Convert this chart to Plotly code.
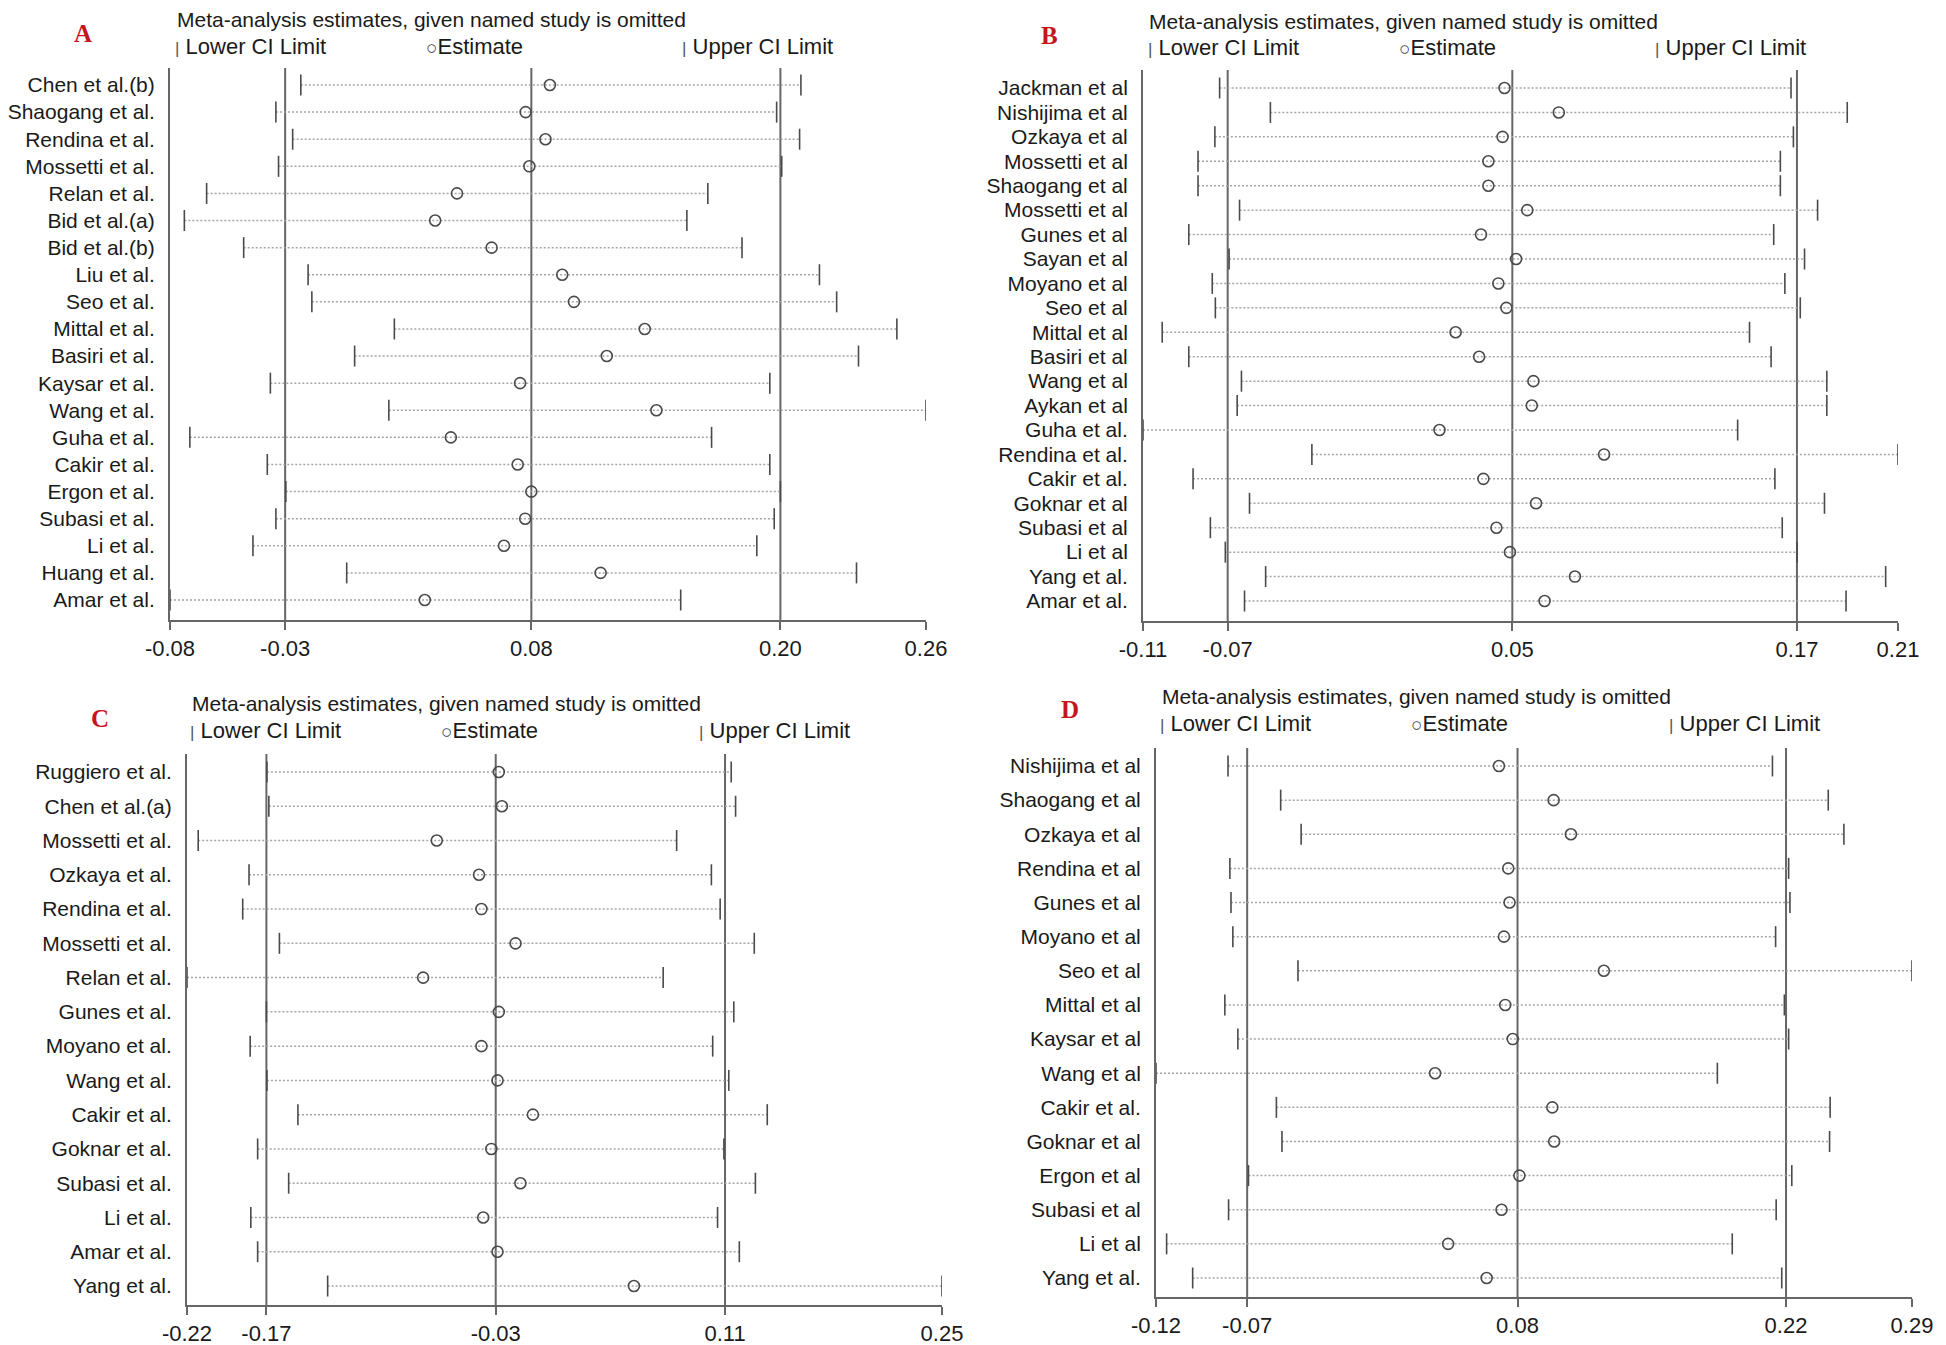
import plotly.graph_objects as go

FONT = "Arial, 'Liberation Sans', Helvetica, sans-serif"
SERIF = "'Times New Roman', 'Liberation Serif', serif"
PAGE_W, PAGE_H = 1946, 1345
OFF = 8  # default body margin of the html page
W, H = PAGE_W - OFF, PAGE_H - OFF

# ---------------- data ----------------
a_names = ["Chen et al.(b)", "Shaogang et al.", "Rendina et al.", "Mossetti et al.", "Relan et al.",
           "Bid et al.(a)", "Bid et al.(b)", "Liu et al.", "Seo et al.", "Mittal et al.", "Basiri et al.",
           "Kaysar et al.", "Wang et al.", "Guha et al.", "Cakir et al.", "Ergon et al.", "Subasi et al.",
           "Li et al.", "Huang et al.", "Amar et al."]
a_lower = [-0.0207, -0.0320, -0.0244, -0.0308, -0.0634, -0.0735, -0.0466, -0.0174, -0.0157, 0.0217,
           0.0037, -0.0345, 0.0192, -0.0710, -0.0359, -0.0275, -0.0320, -0.0424, 0.0001, -0.0800]
a_est = [0.0922, 0.0812, 0.0902, 0.0829, 0.0501, 0.0402, 0.0658, 0.0978, 0.1031, 0.1352,
         0.1180, 0.0787, 0.1405, 0.0473, 0.0776, 0.0838, 0.0810, 0.0714, 0.1152, 0.0355]
a_upper = [0.2060, 0.1950, 0.2054, 0.1973, 0.1638, 0.1543, 0.1793, 0.2144, 0.2222, 0.2495,
           0.2321, 0.1919, 0.2627, 0.1655, 0.1919, 0.1967, 0.1939, 0.1860, 0.2312, 0.1515]
a_ticks = [-0.0800, -0.0278, 0.0838, 0.1967, 0.2627]
a_ticklabels = ["-0.08", "-0.03", "0.08", "0.20", "0.26"]

b_names = ["Jackman et al", "Nishijima et al", "Ozkaya et al", "Mossetti et al", "Shaogang et al",
           "Mossetti et al", "Gunes et al", "Sayan et al", "Moyano et al", "Seo et al", "Mittal et al",
           "Basiri et al", "Wang et al", "Aykan et al", "Guha et al.", "Rendina et al.", "Cakir et al.",
           "Goknar et al", "Subasi et al", "Li et al", "Yang et al.", "Amar et al."]
b_lower = [-0.0757, -0.0543, -0.0777, -0.0848, -0.0848, -0.0673, -0.0887, -0.0717, -0.0788, -0.0775, -0.0999,
           -0.0887, -0.0665, -0.0683, -0.1080, -0.0368, -0.0869, -0.0631, -0.0796, -0.0733, -0.0563, -0.0652]
b_est = [0.0444, 0.0673, 0.0436, 0.0376, 0.0376, 0.0540, 0.0345, 0.0493, 0.0418, 0.0452, 0.0238,
         0.0337, 0.0566, 0.0559, 0.0170, 0.0864, 0.0355, 0.0577, 0.0410, 0.0467, 0.0741, 0.0613]
b_upper = [0.1652, 0.1889, 0.1662, 0.1607, 0.1607, 0.1764, 0.1579, 0.1709, 0.1626, 0.1691, 0.1477,
           0.1568, 0.1803, 0.1803, 0.1427, 0.2103, 0.1584, 0.1793, 0.1615, 0.1678, 0.2051, 0.1884]
b_ticks = [-0.1080, -0.0723, 0.0477, 0.1677, 0.2103]
b_ticklabels = ["-0.11", "-0.07", "0.05", "0.17", "0.21"]

c_names = ["Ruggiero et al.", "Chen et al.(a)", "Mossetti et al.", "Ozkaya et al.", "Rendina et al.",
           "Mossetti et al.", "Relan et al.", "Gunes et al.", "Moyano et al.", "Wang et al.", "Cakir et al.",
           "Goknar et al.", "Subasi et al.", "Li et al.", "Amar et al.", "Yang et al."]
c_lower = [-0.1678, -0.1666, -0.2101, -0.1788, -0.1827, -0.1601, -0.2170, -0.1681, -0.1781, -0.1678,
           -0.1487, -0.1735, -0.1544, -0.1777, -0.1735, -0.1304]
c_est = [-0.0250, -0.0231, -0.0632, -0.0372, -0.0357, -0.0147, -0.0716, -0.0250, -0.0357, -0.0258,
         -0.0040, -0.0296, -0.0117, -0.0346, -0.0258, 0.0582]
c_upper = [0.1181, 0.1208, 0.0845, 0.1059, 0.1113, 0.1323, 0.0762, 0.1197, 0.1067, 0.1166,
           0.1403, 0.1136, 0.1330, 0.1097, 0.1231, 0.2479]
c_ticks = [-0.2170, -0.1681, -0.0269, 0.1143, 0.2479]
c_ticklabels = ["-0.22", "-0.17", "-0.03", "0.11", "0.25"]

d_names = ["Nishijima et al", "Shaogang et al", "Ozkaya et al", "Rendina et al", "Gunes et al",
           "Moyano et al", "Seo et al", "Mittal et al", "Kaysar et al", "Wang et al", "Cakir et al.",
           "Goknar et al", "Ergon et al", "Subasi et al", "Li et al", "Yang et al."]
d_lower = [-0.0783, -0.0500, -0.0390, -0.0773, -0.0767, -0.0757, -0.0407, -0.0800, -0.0730, -0.1170,
           -0.0523, -0.0493, -0.0673, -0.0780, -0.1113, -0.0973]
d_est = [0.0673, 0.0967, 0.1060, 0.0723, 0.0730, 0.0700, 0.1237, 0.0707, 0.0747, 0.0330,
         0.0960, 0.0970, 0.0783, 0.0687, 0.0400, 0.0607]
d_upper = [0.2143, 0.2443, 0.2527, 0.2230, 0.2237, 0.2160, 0.2893, 0.2207, 0.2230, 0.1847,
           0.2453, 0.2450, 0.2247, 0.2163, 0.1927, 0.2193]
d_ticks = [-0.1170, -0.0680, 0.0773, 0.2216, 0.2893]
d_ticklabels = ["-0.12", "-0.07", "0.08", "0.22", "0.29"]

panel_letters = ["A", "B", "C", "D"]
title_text = "Meta-analysis estimates, given named study is omitted"

# ---------------- layout (page-pixel geometry of each panel) ----------------
PANELS = [
    dict(names=a_names, lo=a_lower, est=a_est, up=a_upper, ticks=a_ticks, tlab=a_ticklabels,
         x0=170, x1=926, top=68, bottom=620, first=85, last=600,
         letter=(83, 34), title=(175, 20), leg_y=47, leg=(173, 424, 680)),
    dict(names=b_names, lo=b_lower, est=b_est, up=b_upper, ticks=b_ticks, tlab=b_ticklabels,
         x0=1143, x1=1898, top=70, bottom=621, first=88, last=601,
         letter=(1049, 35), title=(1147, 21), leg_y=48, leg=(1146, 1397, 1653)),
    dict(names=c_names, lo=c_lower, est=c_est, up=c_upper, ticks=c_ticks, tlab=c_ticklabels,
         x0=187, x1=942, top=754, bottom=1305, first=772, last=1286,
         letter=(100, 718), title=(190, 703), leg_y=730, leg=(188, 439, 697)),
    dict(names=d_names, lo=d_lower, est=d_est, up=d_upper, ticks=d_ticks, tlab=d_ticklabels,
         x0=1156, x1=1912, top=748, bottom=1297, first=766, last=1278,
         letter=(1070, 710), title=(1160, 696), leg_y=723, leg=(1158, 1409, 1667)),
]

LINE_C = "#666666"
MARK_C = "#4a4a4a"
DOT_C = "#a5a5a5"

fig = go.Figure()
annotations = []
shapes = []


def px_x(v):
    return (v - OFF) / W


def px_y(v):
    return 1 - (v - OFF) / H


for k, P in enumerate(PANELS, start=1):
    xa = "x" if k == 1 else f"x{k}"
    ya = "y" if k == 1 else f"y{k}"
    n = len(P["names"])
    rows = list(range(1, n + 1))

    xs, ys = [], []
    for i, (l, u) in enumerate(zip(P["lo"], P["up"]), start=1):
        xs += [l, u, None]
        ys += [i, i, None]
    fig.add_trace(go.Scatter(x=xs, y=ys, mode="lines", xaxis=xa, yaxis=ya,
                             line=dict(color=DOT_C, width=1.5, dash="2px,2px"),
                             hoverinfo="skip", showlegend=False))
    for arr in (P["lo"], P["up"]):
        fig.add_trace(go.Scatter(x=arr, y=rows, mode="markers", xaxis=xa, yaxis=ya,
                                 marker=dict(symbol="line-ns-open", size=15, color=MARK_C,
                                             line=dict(color=MARK_C, width=1.6)),
                                 hoverinfo="skip", showlegend=False))
    fig.add_trace(go.Scatter(x=P["est"], y=rows, mode="markers", xaxis=xa, yaxis=ya,
                             marker=dict(symbol="circle-open", size=11, color=MARK_C,
                                         line=dict(color=MARK_C, width=1.6)),
                             hoverinfo="skip", showlegend=False))

    # reference lines at overall lower CI, estimate and upper CI
    for v in P["ticks"][1:4]:
        shapes.append(dict(type="line", xref=xa, yref=f"{ya} domain", x0=v, x1=v, y0=0, y1=1,
                           line=dict(color=LINE_C, width=2), layer="below"))

    ppr = (P["last"] - P["first"]) / (n - 1)
    ytop = 1 - (P["first"] - P["top"]) / ppr
    ybot = n + (P["bottom"] - P["last"]) / ppr

    xkey = "xaxis" if k == 1 else f"xaxis{k}"
    ykey = "yaxis" if k == 1 else f"yaxis{k}"
    fig.layout[xkey] = dict(domain=[px_x(P["x0"]), px_x(P["x1"])], anchor=ya, automargin=False,
                            range=[P["ticks"][0], P["ticks"][-1]],
                            tickmode="array", tickvals=P["ticks"], ticktext=P["tlab"],
                            ticks="outside", ticklen=8, tickwidth=2, tickcolor=LINE_C,
                            showline=True, linecolor=LINE_C, linewidth=2,
                            showgrid=False, zeroline=False,
                            tickfont=dict(family=FONT, size=22, color="#1a1a1a"))
    fig.layout[ykey] = dict(domain=[px_y(P["bottom"]), px_y(P["top"])], anchor=xa, automargin=False,
                            range=[ybot, ytop],
                            tickmode="array", tickvals=rows, ticktext=P["names"],
                            ticks="outside", ticklen=9, tickcolor="rgba(0,0,0,0)",
                            showline=True, linecolor=LINE_C, linewidth=2,
                            showgrid=False, zeroline=False,
                            tickfont=dict(family=FONT, size=21, color="#1a1a1a"))

    lx, ly = P["letter"]
    annotations.append(dict(x=px_x(lx), y=px_y(ly), xref="paper", yref="paper",
                            text=f"<b>{panel_letters[k-1]}</b>", showarrow=False,
                            xanchor="center", yanchor="middle",
                            font=dict(family=SERIF, size=25, color="#c4161c")))
    tx, ty = P["title"]
    annotations.append(dict(x=px_x(tx), y=px_y(ty), xref="paper", yref="paper",
                            text=title_text, showarrow=False, xanchor="left", yanchor="middle",
                            font=dict(family=FONT, size=21, color="#1a1a1a")))
    bar = "<span style='color:#555555;font-size:17px'>|</span>"
    circ = "<span style='color:#444444;font-size:19px'>○</span>"
    leg_items = [bar + " Lower CI Limit", circ + "Estimate", bar + " Upper CI Limit"]
    for gx, txt in zip(P["leg"], leg_items):
        annotations.append(dict(x=px_x(gx), y=px_y(P["leg_y"]), xref="paper", yref="paper",
                                text=txt, showarrow=False, xanchor="left", yanchor="middle",
                                font=dict(family=FONT, size=22, color="#1a1a1a")))

fig.update_layout(width=W, height=H, margin=dict(l=0, r=0, t=0, b=0, autoexpand=False),
                  paper_bgcolor="white", plot_bgcolor="white",
                  annotations=annotations, shapes=shapes, showlegend=False,
                  font=dict(family=FONT))

fig.write_html("out.html")
